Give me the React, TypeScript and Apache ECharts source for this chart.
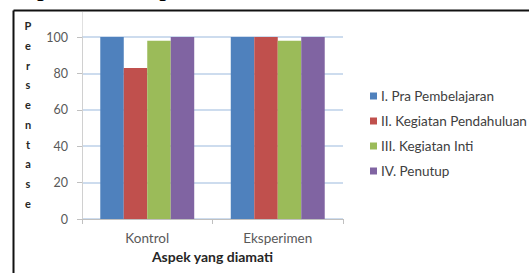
import React, { useEffect, useRef } from "react";
import * as echarts from "echarts";

const categories = ["Kontrol", "Eksperimen"];
const seriesNames = [
  "I. Pra Pembelajaran",
  "II. Kegiatan Pendahuluan",
  "III. Kegiatan Inti",
  "IV. Penutup",
];
const praPembelajaran = [100, 100];
const kegiatanPendahuluan = [83, 100];
const kegiatanInti = [98, 98];
const penutup = [100, 100];
const yTicks = [0, 20, 40, 60, 80, 100];
const yTitle = "Persentase";
const xTitle = "Aspek yang diamati";
const caption = "apat di lihat pada Gambar 1 berikut.";

const colors = ["#4f81bd", "#c0504d", "#9bbb59", "#8064a2"];
const FONT = "Lato, 'Open Sans', sans-serif";

export default function App() {
  const ref = useRef<HTMLDivElement>(null);
  useEffect(() => {
    if (!ref.current) return;
    const chart = echarts.init(ref.current, null, { renderer: "svg" });
    const values = [praPembelajaran, kegiatanPendahuluan, kegiatanInti, penutup];
    chart.setOption({
      animation: false,
      backgroundColor: "#ffffff",
      textStyle: { fontFamily: FONT },
      grid: { left: 82, right: 186, top: 37, bottom: 54, containLabel: false },
      legend: {
        orient: "vertical",
        left: 365,
        top: 84,
        itemWidth: 7,
        itemHeight: 7,
        itemGap: 11,
        icon: "rect",
        data: seriesNames,
        textStyle: { fontFamily: FONT, fontSize: 13.5, color: "#404040", padding: [0, 0, 0, -1] },
      },
      xAxis: {
        type: "category",
        data: categories,
        name: xTitle,
        nameLocation: "middle",
        nameGap: 30,
        nameTextStyle: { fontFamily: FONT, fontSize: 14, fontWeight: "bold", color: "#262626" },
        axisLine: { lineStyle: { color: "#c0c0c0", width: 1 } },
        axisTick: { show: true, length: 5, lineStyle: { color: "#c0c0c0" } },
        axisLabel: { fontFamily: FONT, fontSize: 13.5, color: "#595959", margin: 12 },
        splitLine: { show: false },
      },
      yAxis: {
        type: "value",
        min: yTicks[0],
        max: yTicks[yTicks.length - 1],
        interval: 20,
        axisLine: { show: true, lineStyle: { color: "#d0d0d0", width: 1 } },
        axisTick: { show: true, length: 5, lineStyle: { color: "#c0c0c0" } },
        axisLabel: { fontFamily: FONT, fontSize: 12.5, color: "#595959", margin: 14 },
        splitLine: { show: true, lineStyle: { color: "#bcd0e8", width: 1.5 } },
      },
      series: seriesNames.map((name, i) => ({
        name,
        type: "bar",
        data: values[i],
        barGap: "0%",
        barCategoryGap: "28%",
        itemStyle: { color: colors[i] },
      })),
      graphic: [
        {
          type: "line",
          shape: { x1: 82.5, y1: 12, x2: 82.5, y2: 37 },
          style: { stroke: "#e0e0e0", lineWidth: 1 },
          silent: true,
        },
        {
          type: "line",
          shape: { x1: 13.5, y1: 10.5, x2: 529, y2: 10.5 },
          style: { stroke: "#111111", lineWidth: 2 },
          silent: true,
        },
        {
          type: "line",
          shape: { x1: 13.5, y1: 10.5, x2: 13.5, y2: 273 },
          style: { stroke: "#111111", lineWidth: 2 },
          silent: true,
        },
        {
          type: "text",
          x: 28,
          y: 16,
          style: {
            text: yTitle.split("").join("\n"),
            font: "bold 11px Lato, sans-serif",
            fill: "#262626",
            lineHeight: 19.7,
            align: "center",
            verticalAlign: "top",
          },
          silent: true,
        },
        {
          type: "text",
          left: 25,
          top: -28,
          style: {
            text: caption,
            font: "27px 'Liberation Serif', 'Times New Roman', serif",
            fill: "#000000",
          },
          silent: true,
        },
      ],
    });
    return () => chart.dispose();
  }, []);
  return <div ref={ref} style={{ width: 529, height: 273, position: "absolute", left: 0, top: 0 }} />;
}
